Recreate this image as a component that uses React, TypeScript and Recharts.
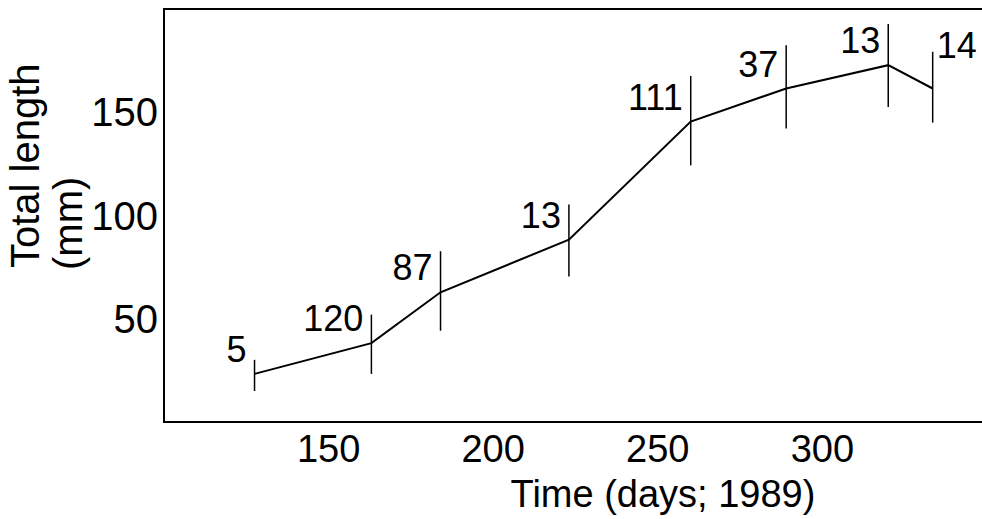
import React from "react";
import {
  LineChart,
  Line,
  XAxis,
  YAxis,
  ErrorBar,
  LabelList,
  ReferenceArea,
} from "recharts";

// Mean total length by sampling day, with the spread and sample size per date
const days = [127.5, 163, 184, 223, 260, 289, 320, 333.5];
const meanLength = [23.3, 38.2, 62.8, 88.3, 145.5, 161.5, 172.8, 161.5];
const errLow = [8.3, 14.9, 18.6, 17.8, 21.2, 19.4, 20.2, 16.5];
const errHigh = [6.8, 13.8, 19.9, 17.0, 22.1, 21.0, 19.9, 17.8];
const sampleSize = ["5", "120", "87", "13", "111", "37", "13", "14"];

const xTicks = [150, 200, 250, 300];
const yTicks = [50, 100, 150];

const data = days.map((day, i) => ({
  day,
  length: meanLength[i],
  err: [errLow[i], errHigh[i]],
  n: sampleSize[i],
}));

const FONT = '"Liberation Sans", Arial, sans-serif';

// sample size sits up-left of each point, the last one goes to the right
function SampleLabel(props: any) {
  const { x, y, value, index } = props;
  const last = index === data.length - 1;
  return (
    <text
      x={last ? x + 4 : x - 8}
      y={last ? y - 31 : y - 12}
      textAnchor={last ? "start" : "end"}
      fontSize={36}
      fontFamily={FONT}
      fill="#000"
    >
      {value}
    </text>
  );
}

export default function App() {
  return (
    <div
      style={{
        position: "absolute",
        left: 0,
        top: 0,
        width: 982,
        height: 519,
        overflow: "hidden",
        background: "#fff",
        fontFamily: FONT,
      }}
    >
      <LineChart
        width={1000}
        height={519}
        data={data}
        margin={{ top: 9, right: 13, bottom: 0, left: 0 }}
      >
        <ReferenceArea
          x1={100}
          x2={350}
          y1={0}
          y2={200}
          fill="none"
          stroke="#000"
          strokeWidth={2}
          fillOpacity={0}
        />
        <XAxis
          type="number"
          dataKey="day"
          domain={[100, 350]}
          ticks={xTicks}
          allowDataOverflow
          height={97}
          axisLine={false}
          tickLine={false}
          tickSize={0}
          tickMargin={13}
          tick={{ fill: "#000", fontSize: 38, fontFamily: FONT }}
        />
        <YAxis
          type="number"
          domain={[0, 200]}
          ticks={yTicks}
          width={164}
          axisLine={false}
          tickLine={false}
          tickSize={0}
          tickMargin={6}
          tick={{ fill: "#000", fontSize: 40, fontFamily: FONT }}
        />
        <Line
          type="linear"
          dataKey="length"
          stroke="#000"
          strokeWidth={2}
          dot={false}
          isAnimationActive={false}
        >
          <ErrorBar
            dataKey="err"
            width={0}
            stroke="#000"
            strokeWidth={1.5}
            isAnimationActive={false}
          />
          <LabelList dataKey="n" content={SampleLabel} />
        </Line>
      </LineChart>
      <svg
        width={982}
        height={519}
        style={{ position: "absolute", left: 0, top: 0, pointerEvents: "none" }}
      >
        <text
          x={663}
          y={507}
          textAnchor="middle"
          fontSize={38}
          fontFamily={FONT}
          fill="#000"
        >
          Time (days; 1989)
        </text>
        <text
          x={39}
          y={268}
          transform="rotate(-90 39 268)"
          fontSize={40}
          fontFamily={FONT}
          fill="#000"
        >
          Total length
        </text>
        <text
          x={82}
          y={270}
          transform="rotate(-90 82 270)"
          fontSize={40}
          fontFamily={FONT}
          fill="#000"
        >
          (mm)
        </text>
      </svg>
    </div>
  );
}
